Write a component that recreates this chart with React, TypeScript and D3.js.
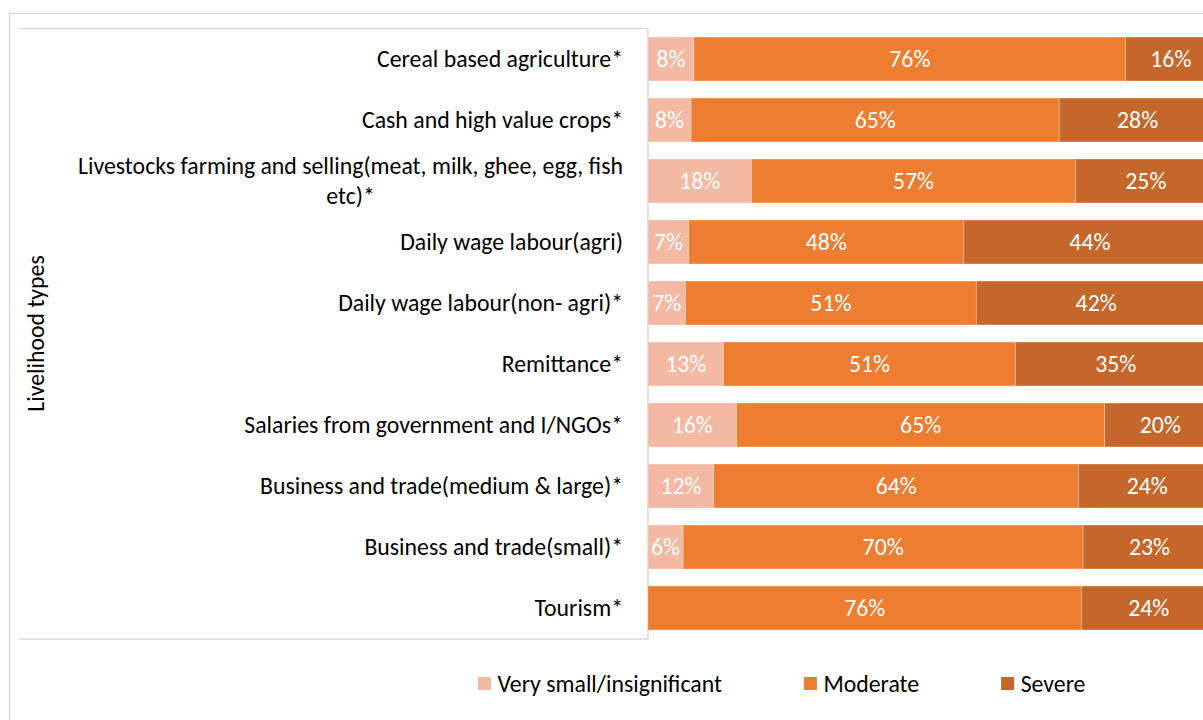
import React, { useEffect, useRef } from "react";
import * as d3 from "d3";

const categories = [
  "Cereal based agriculture*",
  "Cash and high value crops*",
  "Livestocks farming and selling(meat, milk, ghee, egg, fish|etc)*",
  "Daily wage labour(agri)",
  "Daily wage labour(non- agri)*",
  "Remittance*",
  "Salaries from government and I/NGOs*",
  "Business and trade(medium & large)*",
  "Business and trade(small)*",
  "Tourism*",
];
const verySmall = [8.1, 7.6, 18.2, 7.2, 6.6, 13.3, 15.6, 11.6, 6.2, 0];
const moderate = [76.0, 64.8, 57.1, 48.4, 51.2, 51.4, 64.8, 64.2, 70.4, 76.3];
const severe = [15.9, 27.6, 24.7, 44.4, 42.2, 35.3, 19.6, 24.2, 23.4, 23.7];
const seriesNames = ["Very small/insignificant", "Moderate", "Severe"];
const seriesColors = ["#F4B9A3", "#ED7D31", "#C5662A"];
const axisTitle = "Livelihood types";

const FONT = "Carlito, Lato, 'Open Sans', sans-serif";

export default function App() {
  const ref = useRef<SVGSVGElement | null>(null);

  useEffect(() => {
    document.body.style.margin = "0";
    const svg = d3.select(ref.current);
    svg.selectAll("*").remove();

    // fit font size so text widths match the reference
    const probe = svg
      .append("text")
      .attr("font-family", FONT)
      .attr("font-size", 100)
      .text("Cereal based agriculture*");
    const len = (probe.node() as SVGTextElement).getComputedTextLength();
    probe.remove();
    const fs = (246 * 100) / len;

    const grid = "#D9D9D9";
    // outer chart border
    svg.append("rect").attr("x", 9.5).attr("y", 13.5).attr("width", 1400).attr("height", 900)
      .attr("fill", "white").attr("stroke", grid).attr("stroke-width", 1.5);

    const x0 = 648;
    const x = d3.scaleLinear().domain([0, 100]).range([x0, 1216]);
    const y = d3.scaleBand<number>()
      .domain(d3.range(categories.length))
      .range([28.5, 638.5])
      .paddingInner(0.28)
      .paddingOuter(0.14);

    // inner box lines
    svg.append("path")
      .attr("d", `M18,28.5H648V639H18`)
      .attr("fill", "none").attr("stroke", grid).attr("stroke-width", 1.5);

    const data = categories.map((c, i) => {
      const vals = [verySmall[i], moderate[i], severe[i]];
      const tot = d3.sum(vals);
      let acc = 0;
      return vals.map((v, s) => {
        const start = (acc / tot) * 100;
        acc += v;
        const end = (acc / tot) * 100;
        return { i, s, v, start, end };
      });
    });

    const g = svg.append("g");
    data.forEach((row) => {
      row.forEach((d) => {
        if (d.v <= 0) return;
        g.append("rect")
          .attr("x", x(d.start))
          .attr("y", y(d.i)!)
          .attr("width", x(d.end) - x(d.start))
          .attr("height", y.bandwidth())
          .attr("fill", seriesColors[d.s])
          .attr("stroke", "white")
          .attr("stroke-opacity", 0.35)
          .attr("stroke-width", 0.75);
        g.append("text")
          .attr("x", (x(d.start) + x(d.end)) / 2)
          .attr("y", y(d.i)! + y.bandwidth() / 2)
          .attr("dy", "0.35em")
          .attr("text-anchor", "middle")
          .attr("font-family", FONT)
          .attr("font-size", fs)
          .attr("fill", "white")
          .text(Math.round(d.v) + "%");
      });
    });

    // category labels
    const labelX = 623;
    categories.forEach((c, i) => {
      const cy = y(i)! + y.bandwidth() / 2;
      const lines = c.split("|");
      if (lines.length === 1) {
        svg.append("text")
          .attr("x", labelX).attr("y", cy).attr("dy", "0.35em")
          .attr("text-anchor", "end")
          .attr("font-family", FONT).attr("font-size", fs).attr("fill", "#000")
          .text(c);
      } else {
        const lh = fs * 1.27;
        const t1 = svg.append("text")
          .attr("x", labelX).attr("y", cy - lh / 2).attr("dy", "0.35em")
          .attr("text-anchor", "end")
          .attr("font-family", FONT).attr("font-size", fs).attr("fill", "#000")
          .text(lines[0]);
        const w1 = (t1.node() as SVGTextElement).getComputedTextLength();
        svg.append("text")
          .attr("x", labelX - w1 / 2).attr("y", cy + lh / 2).attr("dy", "0.35em")
          .attr("text-anchor", "middle")
          .attr("font-family", FONT).attr("font-size", fs).attr("fill", "#000")
          .text(lines[1]);
      }
    });

    // axis title
    svg.append("text")
      .attr("transform", `translate(36,333.5) rotate(-90)`)
      .attr("dy", "0.35em")
      .attr("text-anchor", "middle")
      .attr("font-family", FONT).attr("font-size", fs).attr("fill", "#000")
      .text(axisTitle);

    // legend
    let lx = 478;
    const ly = 683.5;
    seriesNames.forEach((n, s) => {
      svg.append("rect").attr("x", lx).attr("y", ly - 6.5).attr("width", 13).attr("height", 13)
        .attr("fill", seriesColors[s]);
      const t = svg.append("text")
        .attr("x", lx + 19.5).attr("y", ly).attr("dy", "0.35em")
        .attr("font-family", FONT).attr("font-size", fs).attr("fill", "#000")
        .text(n);
      const w = (t.node() as SVGTextElement).getComputedTextLength();
      lx = lx + 19.5 + w + 82;
    });
  }, []);

  return (
    <svg
      ref={ref}
      width={1203}
      height={720}
      style={{ position: "absolute", left: 0, top: 0, display: "block", background: "white" }}
    />
  );
}
